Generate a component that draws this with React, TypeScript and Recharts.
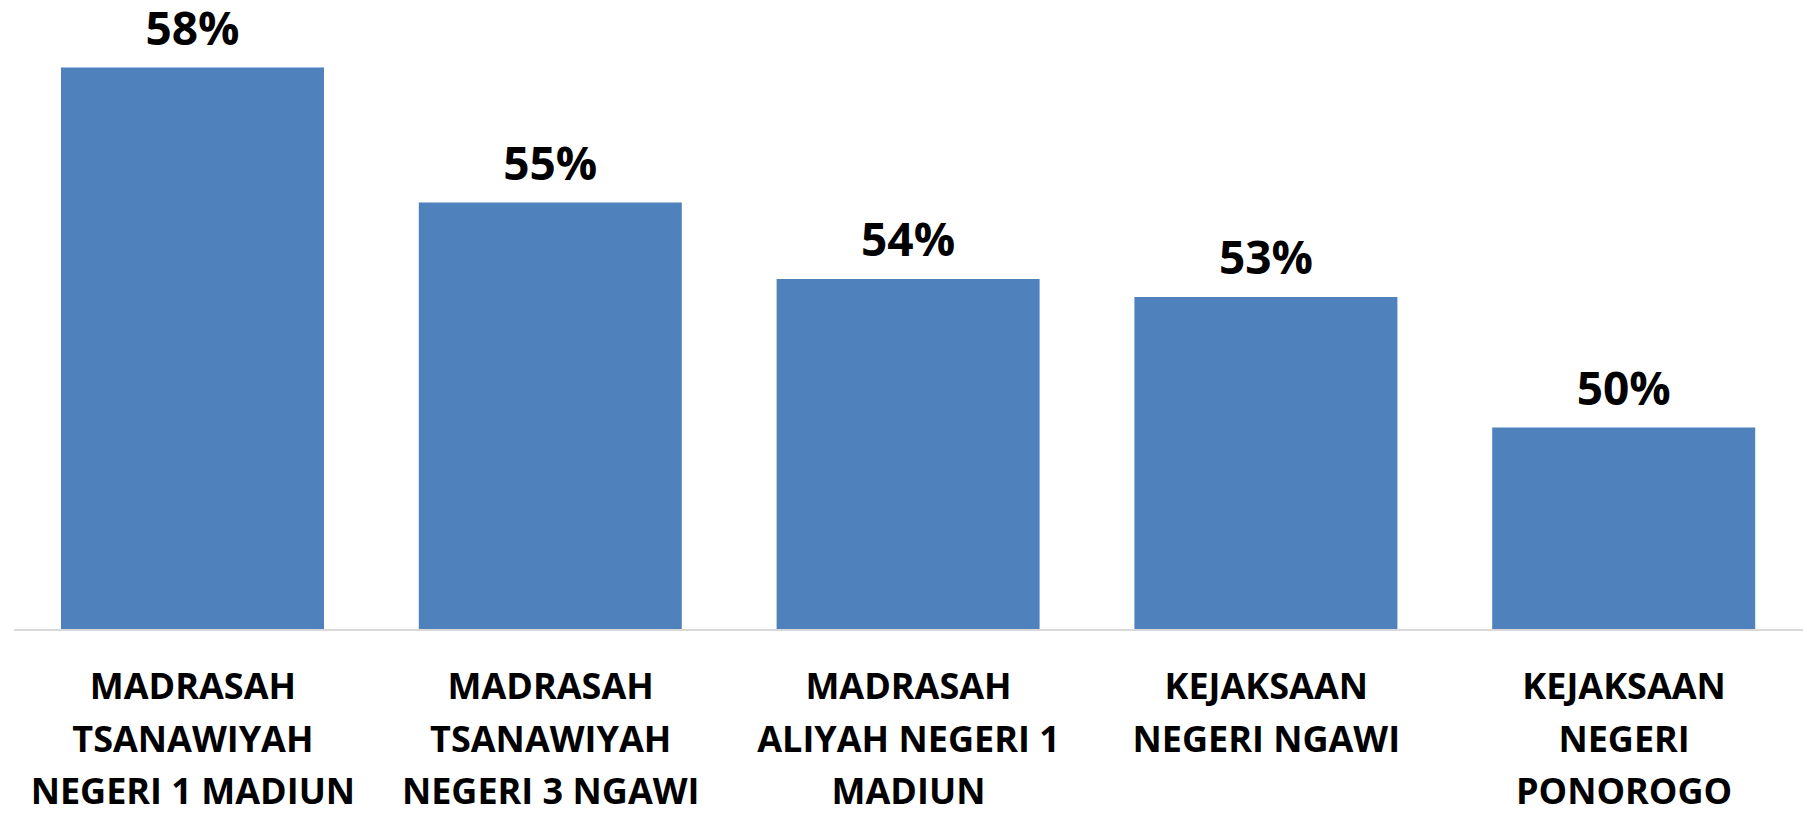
import { BarChart, Bar, XAxis, YAxis, LabelList } from 'recharts'

const categories = [
  'MADRASAH\nTSANAWIYAH\nNEGERI 1 MADIUN',
  'MADRASAH\nTSANAWIYAH\nNEGERI 3 NGAWI',
  'MADRASAH\nALIYAH NEGERI 1\nMADIUN',
  'KEJAKSAAN\nNEGERI NGAWI',
  'KEJAKSAAN\nNEGERI\nPONOROGO',
]
const values = [58.0, 55.0, 53.3, 52.9, 50.0]
const valueLabels = ['58%', '55%', '54%', '53%', '50%']

const data = categories.map((name, i) => ({ name, value: values[i] }))

const FONT = '"Open Sans", sans-serif'

function CategoryTick({ x, y, payload }: { x?: number; y?: number; payload?: { value: string } }) {
  const lines = (payload?.value ?? '').split('\n')
  return (
    <text x={x} y={y} textAnchor="middle" fontFamily={FONT} fontWeight={700} fontSize={36} fill="#000">
      {lines.map((line, i) => (
        <tspan key={i} x={x} dy={i === 0 ? 69 : 52.5}>{line}</tspan>
      ))}
    </text>
  )
}

function ValueLabel(props: { x?: number; y?: number; width?: number; index?: number }) {
  const { x = 0, y = 0, width = 0, index = 0 } = props
  return (
    <text x={x + width / 2} y={y - 23} textAnchor="middle" fontFamily={FONT} fontWeight={700} fontSize={46} fill="#000">
      {valueLabels[index]}
    </text>
  )
}

export default function App() {
  return (
    <div style={{ width: 1807, height: 822, background: '#fff' }}>
      <style>{'body{margin:0}'}</style>
      <BarChart width={1807} height={822} data={data} margin={{ top: 0, right: 4, left: 14, bottom: 0 }}>
        <XAxis
          dataKey="name"
          height={192}
          interval={0}
          tickLine={false}
          tickSize={0}
          tickMargin={0}
          axisLine={{ stroke: '#d9d9d9', strokeWidth: 2 }}
          tick={<CategoryTick />}
        />
        <YAxis hide domain={[45.5, 59.5]} allowDataOverflow />
        <Bar dataKey="value" fill="#4f81bd" barSize={263} isAnimationActive={false}>
          <LabelList dataKey="value" content={<ValueLabel />} />
        </Bar>
      </BarChart>
    </div>
  )
}
